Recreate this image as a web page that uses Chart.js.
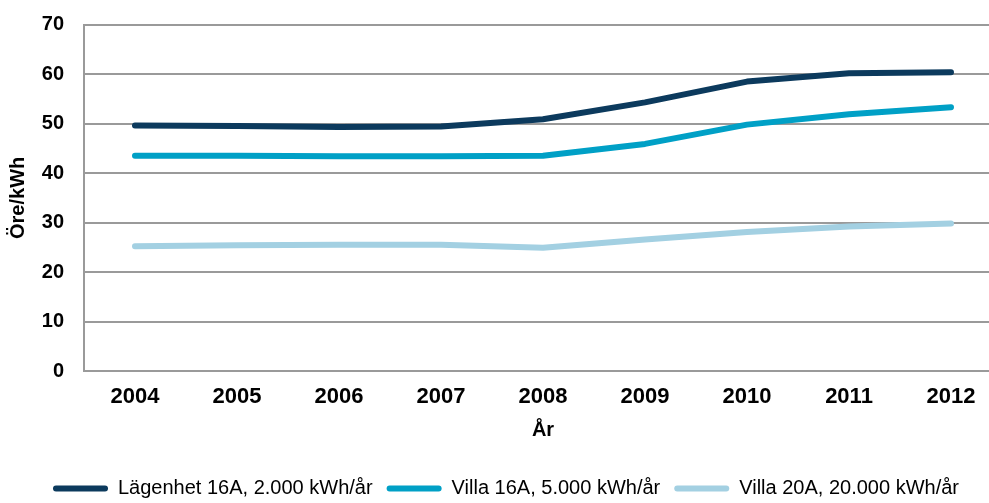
<!DOCTYPE html>
<html>
<head>
<meta charset="utf-8">
<script src="https://cdn.jsdelivr.net/npm/chart.js@4"></script>
<style>
  html, body { margin: 0; padding: 0; background: #fff; overflow: hidden; }
  #wrap { position: relative; width: 1002px; height: 503px; }
</style>
</head>
<body>
<div id="wrap"><canvas id="c"></canvas></div>
<script>
const categories = ['2004', '2005', '2006', '2007', '2008', '2009', '2010', '2011', '2012'];
const lagenhet16A = [49.6, 49.5, 49.3, 49.4, 50.9, 54.3, 58.5, 60.2, 60.4];
const villa16A = [43.5, 43.5, 43.4, 43.4, 43.5, 45.9, 49.8, 51.9, 53.3];
const villa20A = [25.2, 25.4, 25.5, 25.5, 24.9, 26.6, 28.1, 29.2, 29.8];
const seriesNames = ['Lägenhet 16A, 2.000 kWh/år', 'Villa 16A, 5.000 kWh/år', 'Villa 20A, 20.000 kWh/år'];
const yTickValues = [0, 10, 20, 30, 40, 50, 60, 70];
const yTitle = 'Öre/kWh';
const xTitle = 'År';

const colors = ['#0c3a5d', '#00a0c6', '#a3d0e2'];
const gridColor = '#9a9a9a';
const FONT = 'Liberation Sans, Arial, sans-serif';

const legendFix = {
  id: 'legendFix',
  afterInit(chart) {
    const lg = chart.legend;
    if (lg) {
      const f = lg.fit;
      lg.fit = function () { f.call(this); this.height = 38.5; };
    }
  },
  afterLayout(chart) {
    const lg = chart.legend;
    if (lg) { lg.left += 5; lg.right += 5; }
  }
};

const mk = (label, data, color) => ({
  label, data,
  borderColor: color, backgroundColor: color,
  borderWidth: 6, pointRadius: 0, pointHoverRadius: 0,
  tension: 0, fill: false,
  borderCapStyle: 'round', borderJoinStyle: 'round'
});

new Chart(document.getElementById('c'), {
  type: 'line',
  data: {
    labels: categories,
    datasets: [
      mk(seriesNames[0], lagenhet16A, colors[0]),
      mk(seriesNames[1], villa16A, colors[1]),
      mk(seriesNames[2], villa20A, colors[2])
    ]
  },
  plugins: [legendFix],
  options: {
    responsive: true,
    maintainAspectRatio: false,
    animation: false,
    events: [],
    layout: { padding: { top: 24.7, left: 0, right: 0, bottom: 0 } },
    plugins: {
      tooltip: { enabled: false },
      legend: {
        position: 'bottom',
        labels: {
          font: { family: FONT, size: 20 },
          color: '#000',
          boxWidth: 55,
          boxHeight: 6,
          padding: 14,
          useBorderRadius: true,
          borderRadius: 3,
          generateLabels(chart) {
            const items = Chart.defaults.plugins.legend.labels.generateLabels(chart);
            items.forEach((it, i) => { it.lineWidth = 0; it.fillStyle = colors[i]; it.strokeStyle = colors[i]; });
            return items;
          }
        }
      }
    },
    scales: {
      x: {
        type: 'category',
        offset: true,
        grid: { display: false, drawTicks: false },
        border: { display: true, color: gridColor, width: 2 },
        ticks: {
          padding: 13,
          color: '#000',
          font: { family: FONT, size: 22, weight: 'bold' },
          maxRotation: 0, autoSkip: false
        },
        title: {
          display: true, text: xTitle, color: '#000',
          font: { family: FONT, size: 20, weight: 'bold' },
          padding: { top: 0, bottom: 22.5 }
        },
        afterFit(scale) { scale.height = 93.5; }
      },
      y: {
        min: 0, max: 70,
        afterBuildTicks(scale) { scale.ticks = yTickValues.map(v => ({ value: v })); },
        grid: { color: gridColor, lineWidth: 2, drawTicks: false },
        border: { display: true, color: gridColor, width: 2 },
        ticks: {
          padding: 20,
          color: '#000',
          font: { family: FONT, size: 20, weight: 'bold' }
        },
        title: {
          display: true, text: yTitle, color: '#000',
          font: { family: FONT, size: 20, weight: 'bold' },
          padding: { top: 6, bottom: 0 }
        },
        afterFit(scale) { scale.width = 84; scale.paddingTop = 0; scale.paddingBottom = 0; }
      }
    }
  }
});
</script>
</body>
</html>
